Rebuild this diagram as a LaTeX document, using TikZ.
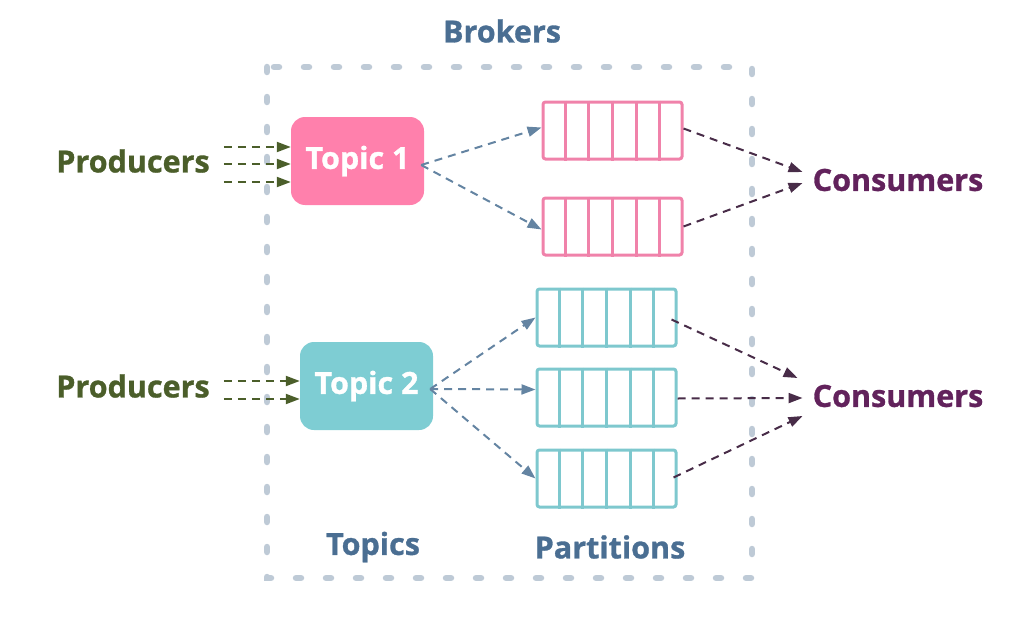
\documentclass[tikz,border=0pt]{standalone}
\usepackage{fontspec}
\setmainfont{Open Sans}[BoldFeatures={FakeBold=1}]
\usetikzlibrary{calc,arrows.meta}
\definecolor{brk}{RGB}{74,110,146}
\definecolor{bord}{RGB}{190,202,214}
\definecolor{pinkc}{RGB}{255,128,172}
\definecolor{pinkl}{RGB}{240,130,170}
\definecolor{tealc}{RGB}{126,205,211}
\definecolor{teall}{RGB}{126,200,206}
\definecolor{prodc}{RGB}{75,94,42}
\definecolor{consc}{RGB}{98,34,92}
\definecolor{toparr}{RGB}{100,132,162}
\definecolor{consarr}{RGB}{72,44,72}
\tikzset{
  lbl/.style={font=\fontsize{30.5}{36}\selectfont\bfseries, inner sep=0pt},
  topicbox/.style={rounded corners=14pt, minimum width=133pt, minimum height=88pt, text=white, font=\fontsize{30.5}{36}\selectfont\bfseries},
  partbox/.style={draw, line width=3pt, rounded corners=2.5pt, minimum width=139pt, minimum height=57pt, inner sep=0pt},
  arr/.style={line width=2pt, dash pattern=on 8pt off 6pt, -{Triangle[length=14pt,width=10pt]}},
}
\newcommand{\cells}[2]{\foreach \i in {1,...,5} {\draw[#2, line width=3pt] ($(#1.north west)!\i/6!(#1.north east)$) -- ($(#1.south west)!\i/6!(#1.south east)$);}}
\begin{document}
\begin{tikzpicture}[x=1pt,y=-1pt]
\useasboundingbox (0,0) rectangle (1033,618);
% border
\draw[bord, line width=6.5pt, line cap=round, dash pattern=on 5pt off 25pt] (267,67) rectangle (752,578);
\node[lbl, text=brk] (brokers) at (502,31) {Brokers};
\node[lbl, text=brk] (topics) at (373,547) {Topics};
\node[lbl, text=brk] (partitions) at (610,547) {Partitions};
% topics
\node[topicbox, fill=pinkc] (t1) at (357.5,161) {Topic 1};
\node[topicbox, fill=tealc] (t2) at (366.5,386) {Topic 2};
% partitions
\node[partbox, draw=pinkl] (p1) at (612.5,130.5) {};
\node[partbox, draw=pinkl] (p2) at (612.5,226.5) {};
\node[partbox, draw=teall] (p3) at (606.5,317.5) {};
\node[partbox, draw=teall] (p4) at (606.5,397.5) {};
\node[partbox, draw=teall] (p5) at (606.5,478.5) {};
\cells{p1}{pinkl}
\cells{p2}{pinkl}
\cells{p3}{teall}
\cells{p4}{teall}
\cells{p5}{teall}
% producers / consumers
\node[lbl, text=prodc] (pr1) at (133,161) {Producers};
\node[lbl, text=prodc] (pr2) at (133,386) {Producers};
\node[lbl, text=consc] (c1) at (898,180) {Consumers};
\node[lbl, text=consc] (c2) at (898,396) {Consumers};
% producer arrows
\foreach \dy in {-14,3,21} {
  \draw[arr, prodc] ($(pr1.east)+(14,\dy)$) -- ($(t1.west)+(0,\dy)$);
}
\foreach \dy in {-5,13} {
  \draw[arr, prodc] ($(pr2.east)+(14,\dy)$) -- ($(t2.west)+(0,\dy)$);
}
% topic arrows
\draw[arr, toparr] ($(t1.east)+(-3,4)$) -- ($(p1.west)+(0,-3)$);
\draw[arr, toparr] ($(t1.east)+(-3,4)$) -- ($(p2.west)+(0,3)$);
\draw[arr, toparr] ($(t2.east)+(-3,3)$) -- ($(p3.west)+(0,0)$);
\draw[arr, toparr] ($(t2.east)+(-3,3)$) -- ($(p4.west)+(0,-8)$);
\draw[arr, toparr] ($(t2.east)+(-3,3)$) -- ($(p5.west)+(0,0)$);
% consumer arrows
\draw[arr, consarr] ($(p1.east)+(0,-2)$) -- ($(c1.west)+(-10,-8)$);
\draw[arr, consarr] ($(p2.east)+(0,0)$) -- ($(c1.west)+(-10,3)$);
\draw[arr, consarr] ($(p3.east)+(-6,2)$) -- ($(c2.west)+(-15,-18)$);
\draw[arr, consarr] ($(p4.east)+(0,1)$) -- ($(c2.west)+(-10,2)$);
\draw[arr, consarr] ($(p5.east)+(-4,-1)$) -- ($(c2.west)+(-10,20)$);
\end{tikzpicture}
\end{document}
